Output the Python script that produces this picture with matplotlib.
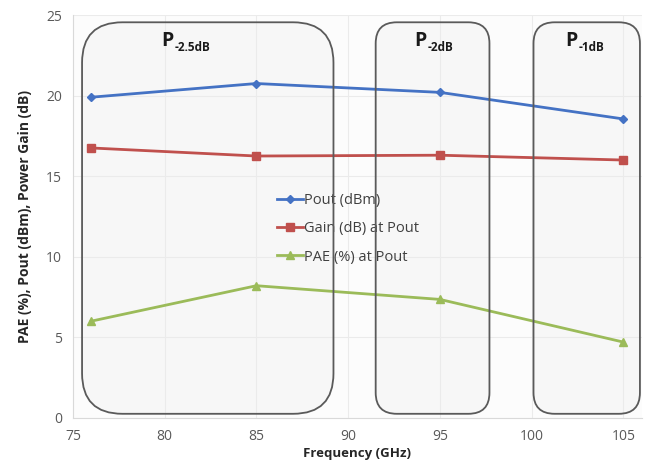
import matplotlib
matplotlib.use("Agg")
import matplotlib.pyplot as plt
from matplotlib.patches import FancyBboxPatch

freq = [76, 85, 95, 105]
pout = [19.9, 20.75, 20.2, 18.55]
gain = [16.75, 16.25, 16.3, 16.0]
pae = [6.0, 8.2, 7.35, 4.7]
series_labels = ["Pout (dBm)", "Gain (dB) at Pout", "PAE (%) at Pout"]
x_ticks = [75, 80, 85, 90, 95, 100, 105]
y_ticks = [0, 5, 10, 15, 20, 25]
regions = [(75.5, 89.2, "-2.5dB"), (91.5, 97.7, "-2dB"), (100.1, 105.9, "-1dB")]
label_x = [79.8, 93.6, 101.85]

plt.rcParams['font.family'] = ['Open Sans', 'DejaVu Sans']
fig = plt.figure(figsize=(6.45, 4.70), dpi=100)
ax = fig.add_axes([0.113, 0.111, 0.882, 0.857])
ax.set_xlim(75, 106)
ax.set_ylim(0, 25)
ax.set_facecolor('#fcfcfc')

ax.plot(freq, pout, color='#4472C4', marker='D', markersize=4, lw=2, label=series_labels[0], zorder=3)
ax.plot(freq, gain, color='#C0504D', marker='s', markersize=6, lw=2, label=series_labels[1], zorder=3)
ax.plot(freq, pae, color='#9BBB59', marker='^', markersize=6, lw=2, label=series_labels[2], zorder=3)

radii = [2.2, 1.15, 1.15]
for (x0, x1, sub), r, xc in zip(regions, radii, label_x):
    box = FancyBboxPatch((x0, 0.25), x1 - x0, 24.3,
                         boxstyle=f"round,pad=0,rounding_size={r}",
                         mutation_aspect=1.14, facecolor='#e6e6e6',
                         edgecolor='none', zorder=1)
    box.set_alpha(0.2)
    ax.add_patch(box)
    edge = FancyBboxPatch((x0, 0.25), x1 - x0, 24.3,
                          boxstyle=f"round,pad=0,rounding_size={r}",
                          mutation_aspect=1.14, facecolor='none',
                          edgecolor='#5a5a5a', lw=1.3, zorder=5)
    ax.add_patch(edge)
    ax.text(xc, 23.4, "P", fontsize=14, fontweight='bold', color='#1a1a1a',
            ha='left', va='center', zorder=6)
    ax.annotate(sub, (xc, 23.4), xytext=(9.5, -5), textcoords='offset points',
                fontsize=8.5, fontweight='bold', color='#1a1a1a',
                ha='left', va='center', zorder=6)

ax.set_xticks(x_ticks)
ax.set_yticks(y_ticks)
ax.grid(True, color='#ebebeb', lw=0.8, zorder=0)
ax.tick_params(length=0, labelsize=10, labelcolor='#595959', pad=8)
for s in ['top', 'right']:
    ax.spines[s].set_visible(False)
for s in ['left', 'bottom']:
    ax.spines[s].set_color('#d9d9d9')

ax.set_xlabel("Frequency (GHz)", fontsize=9.5, fontweight='bold', color='#262626', labelpad=2)
ax.set_ylabel("PAE (%), Pout (dBm), Power Gain (dB)", fontsize=10, fontweight='bold', color='#262626', labelpad=10)

leg = ax.legend(loc='upper left', bbox_to_anchor=(0.335, 0.59), frameon=False,
                fontsize=10.5, labelspacing=0.9, handlelength=1.8, handletextpad=0.1,
                labelcolor='#404040')
leg.set_zorder(4)

fig.savefig("out.png", dpi=100)
